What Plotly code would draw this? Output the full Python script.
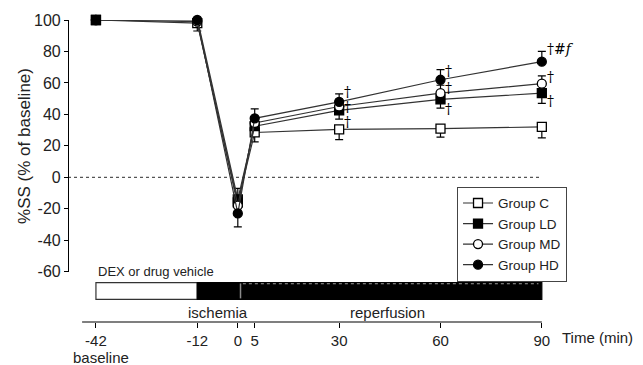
import plotly.graph_objects as go

# ---- data ----
time_min = [-42, -12, 0, 5, 30, 60, 90]
tick_text = ["-42", "-12", "0", "5", "30", "60", "90"]
y_ticks = [-60, -40, -20, 0, 20, 40, 60, 80, 100]
y_tick_text = ["-60", "-40", "-20", "0", "20", "40", "60", "80", "100"]

group_c = [100, 98, -16, 28.5, 30.5, 31, 32]
group_c_err_minus = [0, 5, 0, 6, 6.5, 5.5, 7]
group_c_err_plus = [0, 0, 0, 0, 0, 0, 0]

group_ld = [100, 101, -14, 32.5, 42.5, 49.5, 53.5]
group_ld_err_minus = [0, 0, 0, 0, 5.5, 5.5, 6.5]
group_ld_err_plus = [0, 5.5, 7, 0, 0, 0, 0]

group_md = [100, 99, -18, 34.5, 45, 53.5, 59.5]
group_md_err_minus = [0, 0, 0, 0, 0, 0, 0]
group_md_err_plus = [0, 0, 0, 0, 0, 5, 5]

group_hd = [100, 100, -23, 37.5, 48, 62, 73.5]
group_hd_err_minus = [0, 0, 8.5, 0, 0, 0, 0]
group_hd_err_plus = [0, 0, 0, 6, 5, 6.5, 6.5]

# significance marks: (time, value, text)
sig_marks = [
    (30, 54.5, "†"), (30, 44.8, "†"), (30, 35.0, "†"),
    (60, 67.7, "†"), (60, 57, "†"), (60, 43.3, "†"),
    (90, 81.6, "†#<i>f</i>"), (90, 64, "†"), (90, 48.3, "†"),
]

FONT = "Liberation Sans, Arial, sans-serif"
SERIF = "DejaVu Serif"
LINE_C = "#333333"

fig = go.Figure()

def add_group(name, y, em, ep, symbol, fill):
    fig.add_trace(go.Scatter(
        x=time_min, y=y, name=name, mode="lines+markers",
        line=dict(color=LINE_C, width=1.2),
        marker=dict(symbol=symbol, size=9, color=fill,
                    line=dict(color="black", width=1.3)),
        error_y=dict(type="data", symmetric=False, array=ep, arrayminus=em,
                     color="black", thickness=1.2, width=4),
        cliponaxis=False,
    ))

add_group("Group C", group_c, group_c_err_minus, group_c_err_plus, "square", "white")
add_group("Group LD", group_ld, group_ld_err_minus, group_ld_err_plus, "square", "black")
add_group("Group MD", group_md, group_md_err_minus, group_md_err_plus, "circle", "white")
add_group("Group HD", group_hd, group_hd_err_minus, group_hd_err_plus, "circle", "black")

X_LO, X_HI = -50.27, 95.38
BAR_TOP, BAR_BOT = 0.1307, 0.0752

shapes = [
    dict(type="line", xref="x", yref="y", x0=X_LO, x1=90, y0=0, y1=0,
         line=dict(color="#555555", width=1.2, dash="dot"), layer="below"),
    dict(type="line", xref="x", yref="paper", x0=-46.1, x1=90, y0=0, y1=0,
         line=dict(color="black", width=1.2)),
    dict(type="rect", xref="x", yref="paper", x0=-42, x1=-12, y0=BAR_BOT, y1=BAR_TOP,
         line=dict(color="#333333", width=1.2), fillcolor="white"),
    dict(type="rect", xref="x", yref="paper", x0=-12, x1=90, y0=BAR_BOT, y1=BAR_TOP,
         line=dict(color="black", width=1.2), fillcolor="black"),
    dict(type="line", xref="x", yref="paper", x0=0.8, x1=0.8, y0=BAR_BOT + 0.003, y1=BAR_TOP - 0.003,
         line=dict(color="#8a8a8a", width=1.5)),
    dict(type="line", xref="x", yref="paper", x0=1.5, x1=89, y0=BAR_TOP - 0.004, y1=BAR_TOP - 0.004,
         line=dict(color="#9a9a9a", width=1, dash="dot")),
]

annotations = [
    dict(text="%SS (% of baseline)", x=-0.0874, xref="paper", y=0.583, yref="paper",
         xanchor="center", yanchor="middle", textangle=-90, showarrow=False,
         font=dict(family=FONT, size=17, color="#222")),
    dict(text="DEX or drug vehicle", x=-42, xref="x", y=0.1667, yref="paper",
         xanchor="left", yanchor="middle", showarrow=False,
         font=dict(family=FONT, size=13, color="#222")),
    dict(text="ischemia", x=-5.9, xref="x", y=0.0327, yref="paper",
         xanchor="center", yanchor="middle", showarrow=False,
         font=dict(family=FONT, size=15, color="#222")),
    dict(text="reperfusion", x=44.2, xref="x", y=0.0327, yref="paper",
         xanchor="center", yanchor="middle", showarrow=False,
         font=dict(family=FONT, size=15, color="#222")),
    dict(text="Time (min)", x=1.0, xref="paper", y=-0.0523, yref="paper",
         xanchor="left", yanchor="middle", showarrow=False,
         font=dict(family=FONT, size=15, color="#222")),
    dict(text="baseline", x=-40.5, xref="x", y=-0.1176, yref="paper",
         xanchor="center", yanchor="middle", showarrow=False,
         font=dict(family=FONT, size=15, color="#222")),
]
for t, v, s in sig_marks:
    annotations.append(dict(text=s, x=t, y=v, xref="x", yref="y", xanchor="left",
                            yanchor="middle", xshift=3, showarrow=False, align="left",
                            font=dict(family=SERIF, size=14, color="black")))

fig.update_layout(
    width=643, height=365,
    margin=dict(l=68, r=83, t=16, b=43),
    paper_bgcolor="white", plot_bgcolor="white",
    font=dict(family=FONT, size=15, color="#222"),
    showlegend=True,
    legend=dict(x=0.7907, y=0.448, xanchor="left", yanchor="top",
                bordercolor="#444", borderwidth=1, bgcolor="white",
                font=dict(family=FONT, size=13.5, color="#222"),
                itemwidth=30, tracegroupgap=0),
    xaxis=dict(range=[X_LO, X_HI], anchor="free", position=0,
               showline=False, showgrid=False, zeroline=False,
               tickmode="array", tickvals=time_min, ticktext=tick_text,
               ticks="outside", ticklen=5, tickcolor="black", tickwidth=1.2,
               tickfont=dict(family=FONT, size=15, color="#222")),
    yaxis=dict(range=[-60, 100], domain=[0.1667, 1.0], anchor="free", position=0,
               showline=True, linecolor="black", linewidth=1.2,
               showgrid=False, zeroline=False,
               tickmode="array", tickvals=y_ticks, ticktext=y_tick_text,
               ticks="outside", ticklen=4, tickcolor="black", tickwidth=1.2,
               tickfont=dict(family=FONT, size=16, color="#222")),
    shapes=shapes,
    annotations=annotations,
)

fig.write_html("out.html")
